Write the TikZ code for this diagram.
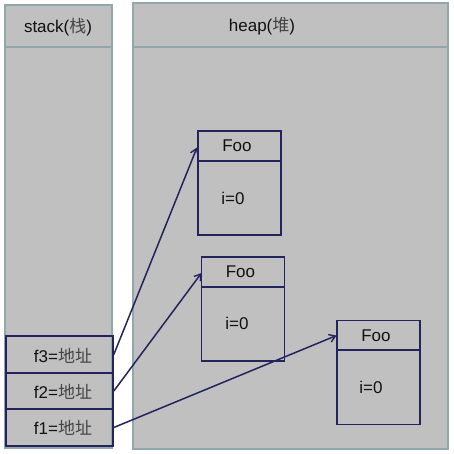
\documentclass[tikz,border=0pt]{standalone}
\usepackage{fontspec}
\setmainfont{Liberation Sans}
\newfontfamily\cjk{Noto Sans CJK SC}
\usetikzlibrary{arrows.meta}
\definecolor{bg}{HTML}{C0C0C0}
\definecolor{colborder}{HTML}{93A6AC}
\definecolor{navy}{HTML}{23235E}
\definecolor{txt}{HTML}{111111}
\definecolor{cjktxt}{HTML}{444444}
\newcommand{\zh}[1]{{\cjk\color{cjktxt}#1}}
\tikzset{
  column/.style={draw=colborder, fill=bg, line width=1.5pt},
  cell/.style={draw=navy, line width=1.6pt, rectangle, minimum width=107pt, minimum height=36.5pt, inner sep=0pt},
  objbox/.style={draw=navy, line width=1.6pt, rectangle, minimum width=83pt, minimum height=104pt, inner sep=0pt},
  lbl/.style={font=\fontsize{17}{19}\selectfont, text=txt, inner sep=0pt},
  ref/.style={draw=navy, line width=1.5pt, -{Straight Barb[length=6pt,width=8pt,line width=1.4pt]}}
}
\begin{document}
\begin{tikzpicture}[x=1pt,y=-1pt]
\useasboundingbox (0,0) rectangle (454,453);
% columns
\draw[column] (5,5) rectangle (112,448);
\draw[column] (5,47) -- (112,47);
\draw[column] (133,3) rectangle (448,449);
\draw[column] (133,47) -- (448,47);
\node[lbl] (stacklbl) at (58,27) {stack(\zh{栈})};
\node[lbl] (heaplbl) at (262,26) {heap(\zh{堆})};
% stack cells
\node[cell] (f3) at (59.5,354.5) {};
\node[cell] (f2) at (59.5,391) {};
\node[cell] (f1) at (59.5,427.5) {};
\node[lbl] (f3t) at (63,356) {f3=\zh{地址}};
\node[lbl] (f2t) at (63,392) {f2=\zh{地址}};
\node[lbl] (f1t) at (63,428) {f1=\zh{地址}};
% objects
\node[objbox] (o1) at (239.2,183) {};
\draw[draw=navy, line width=1.6pt] ([yshift=-31pt]o1.north west) -- ([yshift=-31pt]o1.north east);
\node[lbl] (o1n) at (237,146) {Foo};
\node[lbl] (o1v) at (233,198) {i=0};
\node[objbox] (o2) at (243,308.7) {};
\draw[draw=navy, line width=1.6pt] ([yshift=-31pt]o2.north west) -- ([yshift=-31pt]o2.north east);
\node[lbl] (o2n) at (240.5,272) {Foo};
\node[lbl] (o2v) at (237,323) {i=0};
\node[objbox] (o3) at (378.7,372.3) {};
\draw[draw=navy, line width=1.6pt] ([yshift=-30.5pt]o3.north west) -- ([yshift=-30.5pt]o3.north east);
\node[lbl] (o3n) at (376,336) {Foo};
\node[lbl] (o3v) at (371,387) {i=0};
% references
\coordinate (t1) at (197,147.5);
\coordinate (t2) at (201.5,273);
\coordinate (t3) at (336.5,335.5);
\draw[ref] (f3.east) -- (t1);
\draw[ref] (f2.east) -- (t2);
\draw[ref] (f1.east) -- (t3);
\end{tikzpicture}
\end{document}
